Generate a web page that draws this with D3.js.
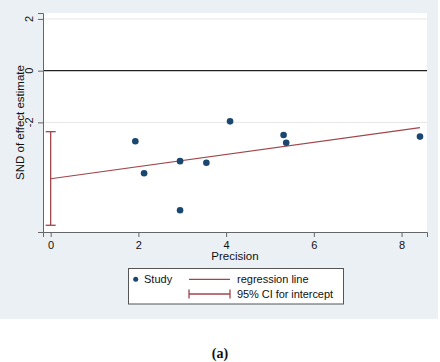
<!DOCTYPE html>
<html>
<head>
<meta charset="utf-8">
<script src="https://cdn.jsdelivr.net/npm/d3@7"></script>
<style>
  body { margin: 0; background: #fff; }
  text { font-family: Arial, "Liberation Sans", sans-serif; }
</style>
</head>
<body>
<div id="chart"></div>
<script>
// Study points: precision (x) and standardised effect (y)
const precision = [1.93, 2.13, 2.95, 3.55, 2.95, 4.09, 5.31, 5.37, 8.42];
const snd = [-2.73, -3.97, -3.50, -3.56, -5.40, -1.96, -2.49, -2.79, -2.55];

// Regression line and CI for intercept
const intercept = -4.18;
const slope = 0.235;
const ciIntercept = [-5.98, -2.36];

const xTicks = [0, 2, 4, 6, 8];
const yTicks = [2, 0, -2];

const W = 440, H = 362;
const margin = { top: 13, right: 13, bottom: 130, left: 43 };

const svg = d3.select("#chart").append("svg")
    .attr("width", W)
    .attr("height", H);

// outer panel background
svg.append("rect")
    .attr("x", 0).attr("y", 0)
    .attr("width", 438).attr("height", 319)
    .attr("fill", "#eaf0f3");

const x = d3.scaleLinear().domain([-0.175, 8.58]).range([margin.left, W - margin.right]);
const y = d3.scaleLinear().domain([-6.24, 2.23]).range([232, margin.top]);
const midX = (x.range()[0] + x.range()[1]) / 2;
const midY = (y.range()[0] + y.range()[1]) / 2;

// plot area
svg.append("rect")
    .attr("x", x.range()[0]).attr("y", y.range()[1])
    .attr("width", x.range()[1] - x.range()[0])
    .attr("height", y.range()[0] - y.range()[1])
    .attr("fill", "#fff");

// faint grid
svg.append("g").selectAll("line")
    .data(yTicks.filter(d => d !== 0))
    .join("line")
    .attr("x1", x.range()[0]).attr("x2", x.range()[1])
    .attr("y1", d => y(d)).attr("y2", d => y(d))
    .attr("stroke", "#e6e6e6")
    .attr("stroke-width", 1);

// zero line
svg.append("line")
    .attr("x1", x.range()[0]).attr("x2", x.range()[1])
    .attr("y1", y(0)).attr("y2", y(0))
    .attr("stroke", "#222")
    .attr("stroke-width", 1.2);

// axes
const xAxis = svg.append("g")
    .attr("transform", `translate(0,${y.range()[0]})`)
    .call(d3.axisBottom(x).tickValues(xTicks).tickSize(5).tickPadding(4));
const yAxis = svg.append("g")
    .attr("transform", `translate(${x.range()[0]},0)`)
    .call(d3.axisLeft(y).tickValues(yTicks).tickSize(5).tickFormat(""));

[xAxis, yAxis].forEach(g => {
    g.select(".domain").attr("stroke", "#666");
    g.selectAll(".tick line").attr("stroke", "#666");
});
xAxis.selectAll(".tick text")
    .text(d => d)
    .attr("fill", "#111")
    .style("font-size", "11px")
    .style("font-family", "Arial, 'Liberation Sans', sans-serif");

// rotated y tick labels (Stata style); right edge kept 3px left of the tick
const yLabels = svg.append("g").selectAll("text")
    .data(yTicks)
    .join("text")
    .attr("text-anchor", "middle")
    .attr("font-size", 11)
    .attr("fill", "#111")
    .text(d => d)
    .attr("transform", d => `translate(${x.range()[0] - 8},${y(d)}) rotate(-90)`);
yLabels.each(function (d) {
    const b = this.getBoundingClientRect();
    const s = svg.node().getBoundingClientRect();
    const right = b.right - s.left;
    const shift = (x.range()[0] - 8) - right;
    d3.select(this).attr("transform", `translate(${x.range()[0] - 8 + shift},${y(d)}) rotate(-90)`);
});

// axis titles
svg.append("text")
    .attr("x", midX).attr("y", 260.3)
    .attr("text-anchor", "middle")
    .attr("font-size", 11.5)
    .attr("fill", "#111")
    .text("Precision");

svg.append("text")
    .attr("transform", `translate(24,${midY}) rotate(-90)`)
    .attr("text-anchor", "middle")
    .attr("font-size", 11.5)
    .attr("fill", "#111")
    .text("SND of effect estimate");

const lineColor = "#a0454b";

// CI for intercept
const ci = svg.append("g").attr("stroke", lineColor).attr("stroke-width", 1.3);
ci.append("line")
    .attr("x1", x(0)).attr("x2", x(0))
    .attr("y1", y(ciIntercept[0])).attr("y2", y(ciIntercept[1]));
ci.selectAll(".cap")
    .data(ciIntercept)
    .join("line")
    .attr("x1", x(0) - 5).attr("x2", x(0) + 5)
    .attr("y1", d => y(d)).attr("y2", d => y(d));

// regression line
const xEnd = d3.max(precision);
svg.append("line")
    .attr("x1", x(0)).attr("y1", y(intercept))
    .attr("x2", x(xEnd)).attr("y2", y(intercept + slope * xEnd))
    .attr("stroke", lineColor)
    .attr("stroke-width", 1.2);

// study points
svg.append("g").selectAll("circle")
    .data(precision.map((p, i) => [p, snd[i]]))
    .join("circle")
    .attr("cx", d => x(d[0]))
    .attr("cy", d => y(d[1]))
    .attr("r", 3.3)
    .attr("fill", "#1a476f");

// legend
const lg = svg.append("g");
lg.append("rect")
    .attr("x", 128.5).attr("y", 268.5)
    .attr("width", 215).attr("height", 35.5)
    .attr("fill", "#fff")
    .attr("stroke", "#555")
    .attr("stroke-width", 1);
lg.append("circle").attr("cx", 135.7).attr("cy", 279.3).attr("r", 2.5).attr("fill", "#1a476f");
lg.append("text").attr("x", 144).attr("y", 283.3).attr("font-size", 11).attr("fill", "#111").text("Study");
lg.append("line").attr("x1", 189).attr("x2", 230).attr("y1", 279.3).attr("y2", 279.3)
    .attr("stroke", lineColor).attr("stroke-width", 1.2);
lg.append("text").attr("x", 237).attr("y", 283.3).attr("font-size", 11).attr("fill", "#111").text("regression line");
const lci = lg.append("g").attr("stroke", lineColor).attr("stroke-width", 1.3);
lci.append("line").attr("x1", 189).attr("x2", 230).attr("y1", 294).attr("y2", 294);
lci.append("line").attr("x1", 189).attr("x2", 189).attr("y1", 289.5).attr("y2", 298.5);
lci.append("line").attr("x1", 230).attr("x2", 230).attr("y1", 289.5).attr("y2", 298.5);
lg.append("text").attr("x", 237).attr("y", 298.1).attr("font-size", 11).attr("fill", "#111")
    .attr("textLength", 96).text("95% CI for intercept");

// caption
svg.append("text")
    .attr("x", 220).attr("y", 358)
    .attr("text-anchor", "middle")
    .attr("font-size", 14)
    .attr("font-weight", "bold")
    .style("font-family", "'Liberation Serif', 'Times New Roman', serif")
    .attr("fill", "#111")
    .text("(a)");
</script>
</body>
</html>
